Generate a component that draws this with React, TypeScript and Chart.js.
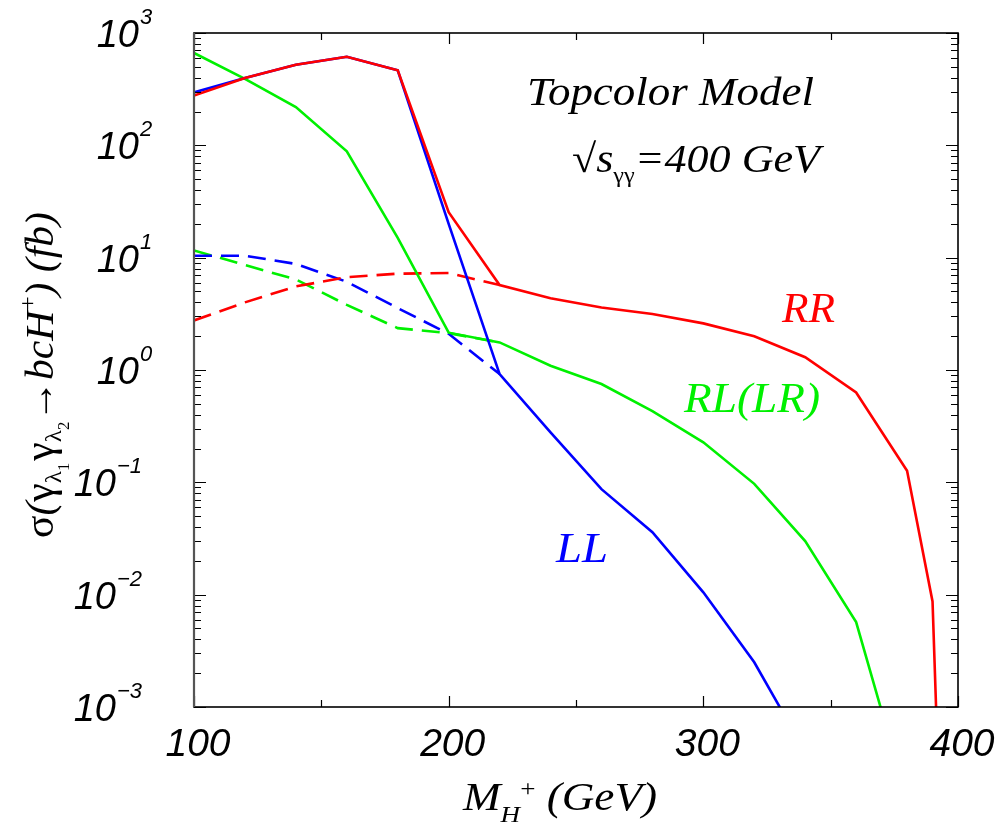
import React, { useEffect, useRef } from "react";
import { Chart, registerables } from "chart.js";

Chart.register(...registerables);

// Charged Higgs mass (GeV) and cross sections (fb) for each helicity combination
const massRR = [100, 120, 140, 160, 180, 200, 220, 240, 260, 280, 300, 320, 340, 360, 380, 390, 400];
const sigmaRR = [277, 398, 522, 615, 466, 25.4, 5.7, 4.35, 3.6, 3.15, 2.6, 2.0, 1.3, 0.63, 0.127, 0.0087, 1.5e-9];

const massRL = [100, 120, 140, 160, 180, 200, 220, 240, 260, 280, 300, 320, 340, 360, 380];
const sigmaRL = [664, 390, 219, 88.5, 15, 2.15, 1.76, 1.09, 0.75, 0.43, 0.227, 0.097, 0.03, 0.0057, 1.5e-4];

const massLL = [100, 120, 140, 160, 180, 200, 220, 240, 260, 280, 300, 320, 340];
const sigmaLL = [296, 398, 522, 615, 466, 20, 0.92, 0.279, 0.087, 0.036, 0.0105, 0.0025, 4e-4];

// Dashed curves below the top threshold
const massDashed = [100, 120, 140, 160, 180, 200, 220];
const sigmaRRDashed = [2.76, 4.0, 5.55, 6.7, 7.2, 7.3, 5.7];
const sigmaRLDashed = [11.6, 8.6, 6.4, 3.8, 2.36, 2.13, 1.76];
const sigmaLLDashed = [10.4, 10.4, 8.8, 6.1, 3.56, 2.1, 0.92];

const xTicksMajor = [100, 200, 300, 400];
const xTicksMinor = [150, 250, 350];
const yTickExps = [-3, -2, -1, 0, 1, 2, 3];

const RED = "#ff0000";
const GREEN = "#00f000";
const BLUE = "#0000ff";

const SERIF = '"Liberation Serif"';
const SANS = '"Liberation Sans"';

type Seg = { t: string; px: number; italic?: boolean; fam?: string; dy?: number; gap?: number };

const segFont = (s: Seg) => (s.italic ? "italic " : "") + s.px + "px " + (s.fam ?? SERIF);

function segsWidth(ctx: CanvasRenderingContext2D, segs: Seg[]) {
  let w = 0;
  for (const s of segs) {
    ctx.font = segFont(s);
    w += ctx.measureText(s.t).width + (s.gap ?? 0);
  }
  return w;
}

// Draws a run of mixed-size text from (x, y) on the baseline, optionally fitted to a width
function drawSegs(ctx: CanvasRenderingContext2D, segs: Seg[], x: number, y: number, width?: number) {
  const nat = segsWidth(ctx, segs);
  const k = width ? width / nat : 1;
  ctx.save();
  ctx.translate(x, y);
  ctx.scale(k, 1);
  ctx.textAlign = "left";
  ctx.textBaseline = "alphabetic";
  let cx = 0;
  for (const s of segs) {
    ctx.font = segFont(s);
    ctx.fillText(s.t, cx, s.dy ?? 0);
    cx += ctx.measureText(s.t).width + (s.gap ?? 0);
  }
  ctx.restore();
}

// Axis titles and curve annotations, painted on the overlay canvas
function drawTitles(ctx: CanvasRenderingContext2D) {
  ctx.clearRect(0, 0, 1004, 828);
  ctx.fillStyle = "#000";

  drawSegs(
    ctx,
    [
      { t: "M", px: 40, italic: true },
      { t: "H", px: 24, italic: true, dy: 12 },
      { t: "+", px: 24, dy: -14 },
      { t: " (GeV)", px: 40, italic: true },
    ],
    463,
    810,
    194
  );

  ctx.save();
  ctx.translate(53, 538);
  ctx.rotate(-Math.PI / 2);
  drawSegs(
    ctx,
    [
      { t: "\u03c3", px: 40 },
      { t: "(", px: 40, italic: true },
      { t: "\u03b3", px: 40 },
      { t: "\u03bb", px: 24, dy: 8 },
      { t: "1", px: 16, dy: 16, gap: 2 },
      { t: "\u03b3", px: 40 },
      { t: "\u03bb", px: 24, dy: 8 },
      { t: "2", px: 16, dy: 16 },
      { t: "\u2192", px: 40 },
      { t: "bcH", px: 40, italic: true },
      { t: "+", px: 24, dy: -18 },
      { t: ") (fb)", px: 40, italic: true },
    ],
    0,
    0,
    326
  );
  ctx.restore();

  drawSegs(ctx, [{ t: "Topcolor Model", px: 40, italic: true }], 527, 105, 287);
  drawSegs(
    ctx,
    [
      { t: "\u221a", px: 40 },
      { t: "s", px: 40, italic: true },
      { t: "\u03b3\u03b3", px: 22, dy: 10 },
      { t: "=400 GeV", px: 40, italic: true },
    ],
    572,
    172,
    248
  );

  ctx.fillStyle = RED;
  drawSegs(ctx, [{ t: "RR", px: 42, italic: true }], 782, 322, 53);
  ctx.fillStyle = GREEN;
  drawSegs(ctx, [{ t: "RL(LR)", px: 42, italic: true }], 684, 412, 136);
  ctx.fillStyle = BLUE;
  drawSegs(ctx, [{ t: "LL", px: 42, italic: true }], 556, 562, 52);
}

const toPoints = (xs: number[], ys: number[]) => xs.map((x, i) => ({ x, y: ys[i] }));

const framePlugin = {
  id: "frameAndTicks",
  afterDatasetsDraw(chart: any) {
    const { ctx, chartArea: a, scales } = chart;
    const xs = scales.x;
    const ys = scales.y;
    ctx.save();

    // inward tick marks on all four sides
    ctx.strokeStyle = "#000";
    ctx.lineWidth = 1.2;
    const hTick = (v: number, len: number) => {
      const y = Math.round(ys.getPixelForValue(v)) + 0.5;
      ctx.beginPath();
      ctx.moveTo(a.left, y);
      ctx.lineTo(a.left + len, y);
      ctx.moveTo(a.right, y);
      ctx.lineTo(a.right - len, y);
      ctx.stroke();
    };
    const vTick = (v: number, len: number) => {
      const x = Math.round(xs.getPixelForValue(v)) + 0.5;
      ctx.beginPath();
      ctx.moveTo(x, a.bottom);
      ctx.lineTo(x, a.bottom - len);
      ctx.moveTo(x, a.top);
      ctx.lineTo(x, a.top + len);
      ctx.stroke();
    };
    for (const e of yTickExps) {
      hTick(Math.pow(10, e), 12);
      if (e < 3) for (let m = 2; m <= 9; m++) hTick(m * Math.pow(10, e), 7);
    }
    for (const v of xTicksMajor) vTick(v, 11);
    for (const v of xTicksMinor) vTick(v, 7);

    // frame
    ctx.lineWidth = 1.6;
    ctx.strokeStyle = "#000";
    ctx.strokeRect(a.left, a.top, a.right - a.left, a.bottom - a.top);
    ctx.lineWidth = 2.2;
    ctx.strokeStyle = "#555";
    ctx.beginPath();
    ctx.moveTo(a.left, a.top);
    ctx.lineTo(a.left, a.bottom);
    ctx.stroke();

    ctx.fillStyle = "#000";

    // y tick labels: 10^n
    for (const e of yTickExps) {
      const y = ys.getPixelForValue(Math.pow(10, e));
      const sup = e < 0 ? "\u2212" + -e : String(e);
      const tenRight = e < 0 ? 116 : 139;
      ctx.font = "italic 38px " + SANS;
      ctx.textAlign = "right";
      ctx.textBaseline = "alphabetic";
      ctx.fillText("10", tenRight, y + 14);
      ctx.font = "italic 22px " + SANS;
      ctx.textAlign = "left";
      ctx.fillText(sup, tenRight + 1, y - 9);
    }

    // x tick labels
    ctx.font = "italic 39px " + SANS;
    ctx.textAlign = "center";
    for (const v of xTicksMajor) {
      ctx.fillText(String(v), xs.getPixelForValue(v) + 4, 756);
    }

    ctx.restore();
  },
};

export default function App() {
  const canvasRef = useRef<HTMLCanvasElement | null>(null);
  const overlayRef = useRef<HTMLCanvasElement | null>(null);

  useEffect(() => {
    document.body.style.margin = "0";
    const canvas = canvasRef.current;
    const overlay = overlayRef.current;
    if (!canvas || !overlay) return;

    const solid = (data: any[], color: string) => ({
      data,
      borderColor: color,
      backgroundColor: color,
      borderWidth: 2.6,
      pointRadius: 0,
      tension: 0,
      fill: false,
    });
    const dashed = (data: any[], color: string) => ({
      ...solid(data, color),
      borderDash: [18, 9],
    });

    const chart = new Chart(canvas, {
      type: "line",
      data: {
        datasets: [
          { label: "RR", ...solid(toPoints(massRR, sigmaRR), RED) },
          { label: "LL", ...solid(toPoints(massLL, sigmaLL), BLUE) },
          { label: "RL(LR)", ...solid(toPoints(massRL, sigmaRL), GREEN) },
          { label: "RR dashed", ...dashed(toPoints(massDashed, sigmaRRDashed), RED) },
          { label: "LL dashed", ...dashed(toPoints(massDashed, sigmaLLDashed), BLUE) },
          { label: "RL dashed", ...dashed(toPoints(massDashed, sigmaRLDashed), GREEN) },
        ],
      },
      options: {
        responsive: false,
        animation: false,
        layout: { padding: { left: 194, right: 46, top: 33, bottom: 121 } },
        scales: {
          x: { type: "linear", min: 100, max: 400, display: false },
          y: { type: "logarithmic", min: 1e-3, max: 1e3, display: false },
        },
        plugins: {
          legend: { display: false },
          tooltip: { enabled: false },
        },
      },
      plugins: [framePlugin],
    });

    const octx = overlay.getContext("2d");
    if (octx) drawTitles(octx);

    return () => chart.destroy();
  }, []);

  return (
    <div style={{ width: 1004, height: 828, background: "#fff", position: "relative" }}>
      <canvas ref={canvasRef} width={1004} height={828} style={{ display: "block" }} />
      <canvas
        ref={overlayRef}
        width={1004}
        height={828}
        style={{ position: "absolute", left: 0, top: 0, pointerEvents: "none" }}
      />
    </div>
  );
}
